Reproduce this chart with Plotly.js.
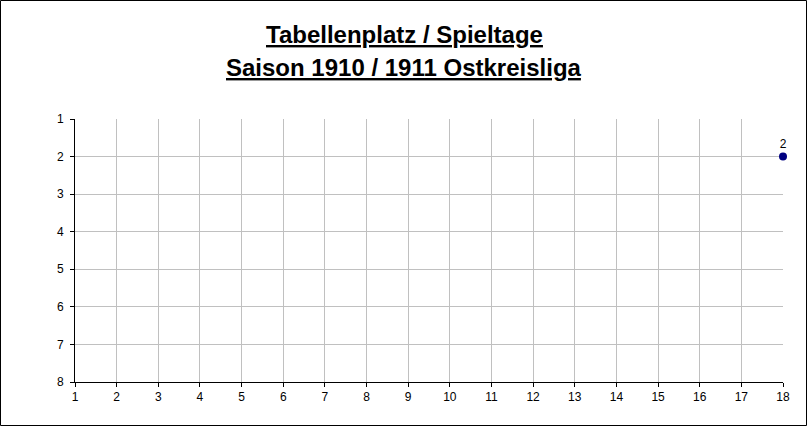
<!DOCTYPE html>
<html>
<head>
<meta charset="utf-8">
<script src="https://cdn.plot.ly/plotly-3.0.1.min.js"></script>
<style>
html,body{margin:0;padding:0;background:#fff;}
#chart{width:808px;height:428px;}
</style>
</head>
<body>
<div id="chart"></div>
<script>
// Data
const spieltage = [18];
const platz = [2];
const platzLabels = ["2"];
const titleLine1 = "Tabellenplatz / Spieltage";
const titleLine2 = "Saison 1910 / 1911 Ostkreisliga";
const xTicks = [1,2,3,4,5,6,7,8,9,10,11,12,13,14,15,16,17,18];
const yTicks = [1,2,3,4,5,6,7,8];

const W = 808, H = 428;
const M = {l: 75, r: 25, t: 119, b: 46};
const pw = W - M.l - M.r, ph = H - M.t - M.b;
const px = v => (v - M.l) / pw;
const py = v => (H - M.b - v) / ph;
const FONT = 'Liberation Sans, Arial, sans-serif';

const trace = {
  x: spieltage,
  y: platz,
  text: platzLabels,
  mode: 'markers+text',
  type: 'scatter',
  textposition: 'top center',
  textfont: {family: FONT, size: 12, color: '#000'},
  marker: {color: '#000080', size: 8, symbol: 'circle'},
  cliponaxis: false,
  showlegend: false,
  hoverinfo: 'none'
};

const layout = {
  width: W, height: H,
  margin: M,
  paper_bgcolor: '#fff',
  plot_bgcolor: '#fff',
  font: {family: FONT, size: 12, color: '#000'},
  showlegend: false,
  xaxis: {
    range: [1, 18], tickvals: xTicks, ticktext: xTicks.map(String),
    showgrid: true, gridcolor: '#c0c0c0', gridwidth: 1,
    zeroline: false, showline: true, linecolor: '#000', linewidth: 1,
    ticks: 'outside', ticklen: 4, tickcolor: '#000',
    tickfont: {size: 12}, fixedrange: true
  },
  yaxis: {
    range: [8, 1], tickvals: yTicks, ticktext: yTicks.map(String),
    showgrid: true, gridcolor: '#c0c0c0', gridwidth: 1,
    zeroline: false, showline: true, linecolor: '#000', linewidth: 1,
    ticks: 'outside', ticklen: 4, tickcolor: '#000', ticklabelstandoff: 4,
    tickfont: {size: 12}, fixedrange: true
  },
  annotations: [
    {text: '<b><u>' + titleLine1 + '</u></b>', xref: 'paper', yref: 'paper',
     x: px(404), y: py(35), xanchor: 'center', yanchor: 'middle', showarrow: false,
     font: {family: FONT, size: 24, color: '#000'}},
    {text: '<b><u>' + titleLine2 + '</u></b>', xref: 'paper', yref: 'paper',
     x: px(404), y: py(67), xanchor: 'center', yanchor: 'middle', showarrow: false,
     font: {family: FONT, size: 24, color: '#000'}}
  ],
  shapes: [
    {type: 'rect', xref: 'paper', yref: 'paper',
     x0: px(0.5), x1: px(806.5), y0: py(0.5), y1: py(425.5),
     line: {color: '#000', width: 1}, fillcolor: 'rgba(0,0,0,0)', layer: 'above'}
  ]
};

Plotly.newPlot('chart', [trace], layout, {displayModeBar: false, staticPlot: true});
</script>
</body>
</html>
